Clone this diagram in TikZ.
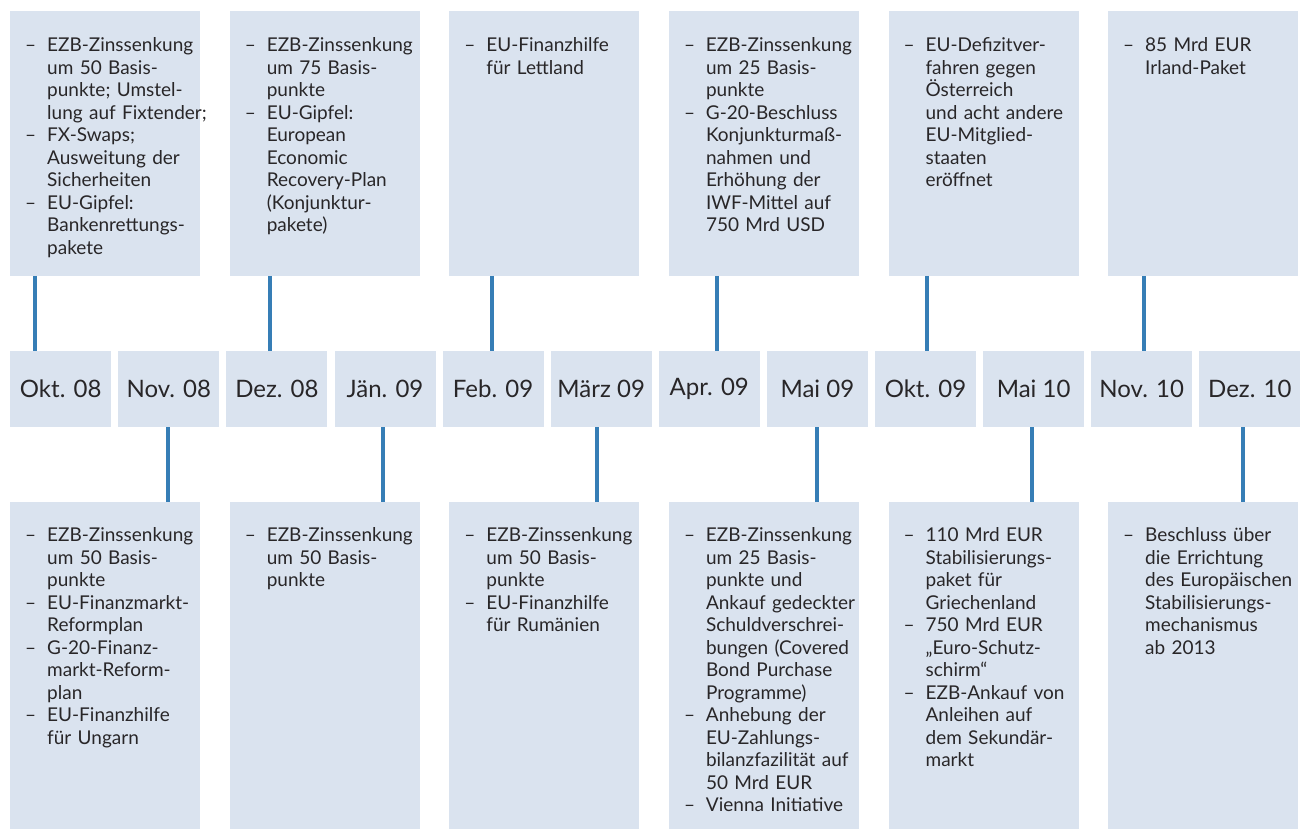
\documentclass[tikz,border=0pt]{standalone}
\usepackage{fontspec}
\setmainfont{Lato}
\usepackage{xcolor}
\usetikzlibrary{positioning}

\definecolor{boxblue}{RGB}{218,227,239}
\definecolor{linkblue}{RGB}{54,126,182}
\definecolor{ink}{RGB}{40,38,40}

% one event of a box: dash, then lines with hanging indent
\newcommand{\evt}[1]{\par\noindent\hangindent=22pt\hangafter=1{\let\\\newline\makebox[22pt][l]{--}#1}\par}

\begin{document}
\begin{tikzpicture}[
  x=1pt, y=-1pt,
  evbox/.style={rectangle, fill=boxblue, inner sep=0pt, anchor=north west,
                minimum width=190pt},
  topbox/.style={evbox, minimum height=264.5pt},
  lowbox/.style={evbox, minimum height=327pt},
  evtext/.style={inner sep=0pt, text width=200pt, align=left, text=ink,
                 font=\fontsize{19}{22.5}\selectfont},
  month/.style={rectangle, fill=boxblue, inner sep=0pt,
                minimum width=101pt, minimum height=76pt,
                text=ink, font=\fontsize{24}{28}\selectfont},
  link/.style={draw=linkblue, line width=3.5pt},
  node distance=6.7pt
]
\path[use as bounding box, fill=white] (0,0) rectangle (1303,829);

% upper boxes
\node[topbox] (t1) at (10,11) {};
\node[topbox, right=29.2pt of t1] (t2) {};
\node[topbox, right=29.2pt of t2] (t3) {};
\node[topbox, right=29.2pt of t3] (t4) {};
\node[topbox, right=29.2pt of t4] (t5) {};
\node[topbox, right=29.2pt of t5] (t6) {};

\node[evtext, below right=18pt and 15pt of t1.north west] (t1txt) {%
  \evt{EZB-Zinssenkung\\um 50 Basis-\\punkte; Umstel-\\lung auf Fixtender;}
  \evt{FX-Swaps;\\Ausweitung der\\Sicherheiten}
  \evt{EU-Gipfel:\\Bankenrettungs-\\pakete}};
\node[evtext, below right=18pt and 15pt of t2.north west] (t2txt) {%
  \evt{EZB-Zinssenkung\\um 75 Basis-\\punkte}
  \evt{EU-Gipfel:\\European\\Economic\\Recovery-Plan\\(Konjunktur-\\pakete)}};
\node[evtext, below right=18pt and 15pt of t3.north west] (t3txt) {%
  \evt{EU-Finanzhilfe\\für Lettland}};
\node[evtext, below right=18pt and 15pt of t4.north west] (t4txt) {%
  \evt{EZB-Zinssenkung\\um 25 Basis-\\punkte}
  \evt{G-20-Beschluss\\Konjunkturmaß-\\nahmen und\\Erhöhung der\\IWF-Mittel auf\\750 Mrd USD}};
\node[evtext, below right=18pt and 15pt of t5.north west] (t5txt) {%
  \evt{EU-Defizitver-\\fahren gegen\\Österreich\\und acht andere\\EU-Mitglied-\\staaten\\eröffnet}};
\node[evtext, below right=18pt and 15pt of t6.north west] (t6txt) {%
  \evt{85 Mrd EUR\\Irland-Paket}};

% month row
\node[month, anchor=north west] (m1) at (10,351) {Okt. 08};
\node[month, right=of m1]  (m2)  {Nov. 08};
\node[month, right=of m2]  (m3)  {Dez. 08};
\node[month, right=of m3]  (m4)  {Jän. 09};
\node[month, right=of m4]  (m5)  {Feb. 09};
\node[month, right=of m5]  (m6)  {März 09};
\node[month, right=of m6]  (m7)  {Apr. 09};
\node[month, right=of m7]  (m8)  {Mai 09};
\node[month, right=of m8]  (m9)  {Okt. 09};
\node[month, right=of m9]  (m10) {Mai 10};
\node[month, right=of m10] (m11) {Nov. 10};
\node[month, right=of m11] (m12) {Dez. 10};

% lower boxes
\node[lowbox] (b1) at (10,502) {};
\node[lowbox, right=29.2pt of b1] (b2) {};
\node[lowbox, right=29.2pt of b2] (b3) {};
\node[lowbox, right=29.2pt of b3] (b4) {};
\node[lowbox, right=29.2pt of b4] (b5) {};
\node[lowbox, right=29.2pt of b5] (b6) {};

\node[evtext, below right=17pt and 15pt of b1.north west] (b1txt) {%
  \evt{EZB-Zinssenkung\\um 50 Basis-\\punkte}
  \evt{EU-Finanzmarkt-\\Reformplan}
  \evt{G-20-Finanz-\\markt-Reform-\\plan}
  \evt{EU-Finanzhilfe\\für Ungarn}};
\node[evtext, below right=17pt and 15pt of b2.north west] (b2txt) {%
  \evt{EZB-Zinssenkung\\um 50 Basis-\\punkte}};
\node[evtext, below right=17pt and 15pt of b3.north west] (b3txt) {%
  \evt{EZB-Zinssenkung\\um 50 Basis-\\punkte}
  \evt{EU-Finanzhilfe\\für Rumänien}};
\node[evtext, below right=17pt and 15pt of b4.north west] (b4txt) {%
  \evt{EZB-Zinssenkung\\um 25 Basis-\\punkte und\\Ankauf gedeckter\\Schuldverschrei-\\bungen (Covered\\Bond Purchase\\Programme)}
  \evt{Anhebung der\\EU-Zahlungs-\\bilanzfazilität auf\\50 Mrd EUR}
  \evt{Vienna Initiative}};
\node[evtext, below right=17pt and 15pt of b5.north west] (b5txt) {%
  \evt{110 Mrd EUR\\Stabilisierungs-\\paket für\\Griechenland}
  \evt{750 Mrd EUR\\„Euro-Schutz-\\schirm“}
  \evt{EZB-Ankauf von\\Anleihen auf\\dem Sekundär-\\markt}};
\node[evtext, below right=17pt and 15pt of b6.north west] (b6txt) {%
  \evt{Beschluss über\\die Errichtung\\des Europäischen\\Stabilisierungs-\\mechanismus\\ab 2013}};

% connectors
\draw[link] (t1.south -| 35,0)   -- (m1.north -| 35,0);
\draw[link] (t2.south -| 270,0)  -- (m3.north -| 270,0);
\draw[link] (t3.south -| 492,0)  -- (m5.north -| 492,0);
\draw[link] (t4.south -| 717,0)  -- (m7.north -| 717,0);
\draw[link] (t5.south -| 927,0)  -- (m9.north -| 927,0);
\draw[link] (t6.south -| 1144,0) -- (m11.north -| 1144,0);
\draw[link] (m2.south -| 168,0)  -- (b1.north -| 168,0);
\draw[link] (m4.south -| 383,0)  -- (b2.north -| 383,0);
\draw[link] (m6.south -| 597,0)  -- (b3.north -| 597,0);
\draw[link] (m8.south -| 817,0)  -- (b4.north -| 817,0);
\draw[link] (m10.south -| 1032,0) -- (b5.north -| 1032,0);
\draw[link] (m12.south -| 1243,0) -- (b6.north -| 1243,0);
\end{tikzpicture}
\end{document}
